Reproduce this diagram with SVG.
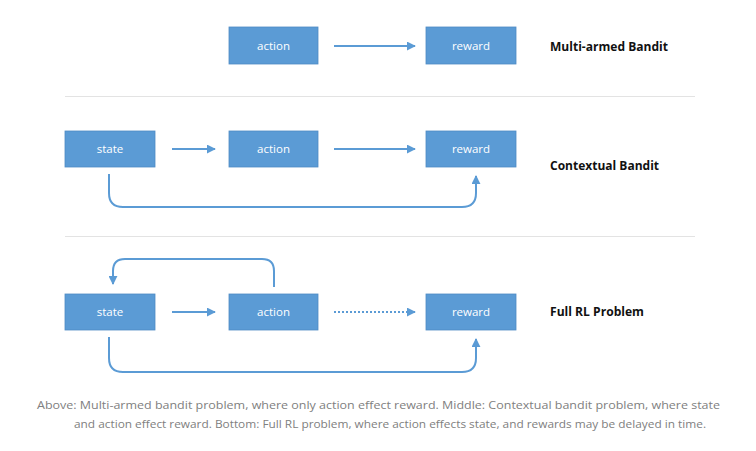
<svg xmlns="http://www.w3.org/2000/svg" width="756" height="451" viewBox="0 0 756 451">
<defs>
<style>
.box{fill:#5b9bd5;stroke:#4f8bc4;stroke-width:0.8}
.bt{font-family:"Open Sans","Liberation Sans",sans-serif;font-size:11.5px;fill:#ffffff;text-anchor:middle}
.lbl{font-family:"Open Sans","Liberation Sans",sans-serif;font-size:12px;font-weight:bold;fill:#111111}
.cap{font-family:"Open Sans","Liberation Sans",sans-serif;font-size:11px;fill:#808080;text-anchor:middle}
.con{fill:none;stroke:#5b9bd5;stroke-width:2}
.sep{stroke:#e3e3e3;stroke-width:1}
</style>
<marker id="ah" viewBox="0 0 10 10" refX="9" refY="5" markerWidth="4.5" markerHeight="4.5" orient="auto" markerUnits="strokeWidth">
<path d="M0,0 L10,5 L0,10 z" fill="#5b9bd5"/>
</marker>
</defs>
<rect width="756" height="451" fill="#ffffff"/>
<line class="sep" x1="65" y1="96.5" x2="695" y2="96.5"/>
<line class="sep" x1="65" y1="236.5" x2="695" y2="236.5"/>
<g id="connectors">
<line class="con" x1="334" y1="46" x2="415" y2="46" marker-end="url(#ah)"/>
<line class="con" x1="172" y1="149" x2="215" y2="149" marker-end="url(#ah)"/>
<line class="con" x1="334" y1="149" x2="415" y2="149" marker-end="url(#ah)"/>
<path class="con" d="M109,174 V193 Q109,207 123,207 H462 Q476,207 476,193 V176" marker-end="url(#ah)"/>
<line class="con" x1="172" y1="312" x2="215" y2="312" marker-end="url(#ah)"/>
<line class="con" x1="334" y1="312" x2="415" y2="312" stroke-dasharray="2,2" marker-end="url(#ah)"/>
<path class="con" d="M274,287 V271 Q274,259 262,259 H125 Q113,259 113,271 V284" marker-end="url(#ah)"/>
<path class="con" d="M109,337 V358 Q109,372 123,372 H462 Q476,372 476,358 V339" marker-end="url(#ah)"/>
</g>
<g id="top-action"><rect class="box" x="229" y="27" width="89" height="37"/><text class="bt" x="273.5" y="50">action</text></g>
<g id="top-reward"><rect class="box" x="426" y="27" width="90" height="37"/><text class="bt" x="471" y="50">reward</text></g>
<g id="mid-state"><rect class="box" x="65" y="131" width="90" height="36"/><text class="bt" x="110" y="153">state</text></g>
<g id="mid-action"><rect class="box" x="229" y="131" width="89" height="36"/><text class="bt" x="273.5" y="153">action</text></g>
<g id="mid-reward"><rect class="box" x="426" y="131" width="90" height="36"/><text class="bt" x="471" y="153">reward</text></g>
<g id="bot-state"><rect class="box" x="65" y="294" width="90" height="36"/><text class="bt" x="110" y="316">state</text></g>
<g id="bot-action"><rect class="box" x="229" y="294" width="89" height="36"/><text class="bt" x="273.5" y="316">action</text></g>
<g id="bot-reward"><rect class="box" x="426" y="294" width="90" height="36"/><text class="bt" x="471" y="316">reward</text></g>
<text class="lbl" x="550" y="51" textLength="118" lengthAdjust="spacingAndGlyphs">Multi-armed Bandit</text>
<text class="lbl" x="550" y="170" textLength="109" lengthAdjust="spacingAndGlyphs">Contextual Bandit</text>
<text class="lbl" x="550" y="316" textLength="94" lengthAdjust="spacingAndGlyphs">Full RL Problem</text>
<text class="cap" x="378.5" y="409" textLength="683" lengthAdjust="spacingAndGlyphs">Above: Multi-armed bandit problem, where only action effect reward. Middle: Contextual bandit problem, where state</text>
<text class="cap" x="390" y="428" textLength="632" lengthAdjust="spacingAndGlyphs">and action effect reward. Bottom: Full RL problem, where action effects state, and rewards may be delayed in time.</text>
</svg>
